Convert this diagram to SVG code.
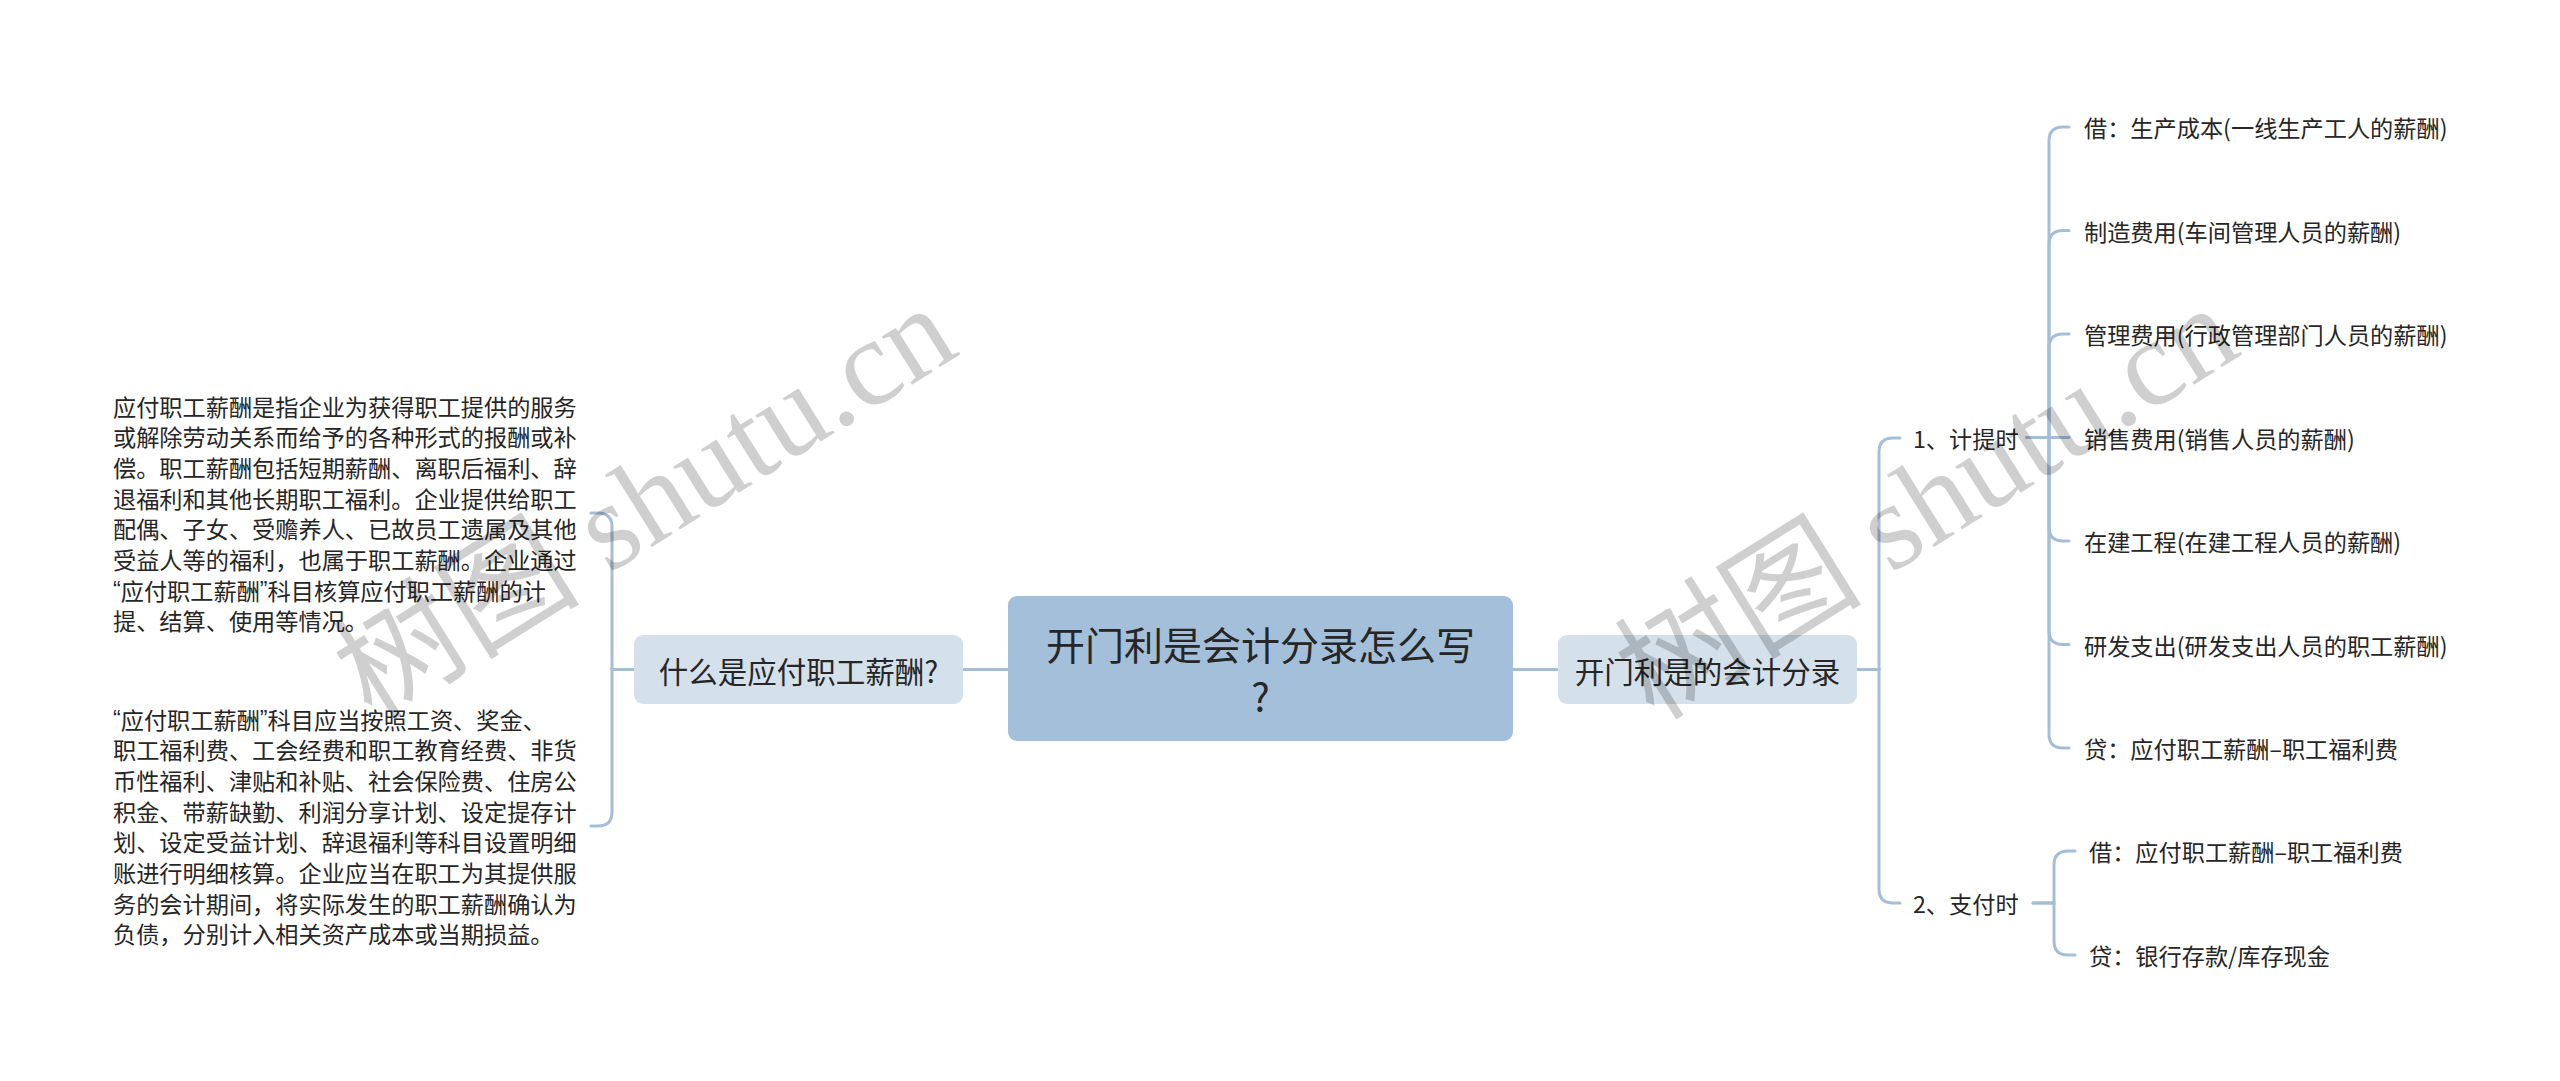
<svg xmlns="http://www.w3.org/2000/svg" width="2560" height="1081" viewBox="0 0 2560 1081">
<style>
.t{font-family:"Noto Sans CJK SC","Noto Sans",sans-serif;fill:#262626;dominant-baseline:central}
.leaf{font-size:23.2px}
.q{font-family:"Liberation Sans","Noto Sans",sans-serif}
.l1{font-size:29.5px;text-anchor:middle}
.c{font-size:39px;text-anchor:middle}
.ln{fill:none;stroke:#a5bed8;stroke-width:3;stroke-linecap:round}
.wm{font-family:"Liberation Serif","Noto Sans CJK SC",serif;font-size:124px;fill:#000;fill-opacity:0.19}
</style>
<rect width="2560" height="1081" fill="#fff"/>
<g id="connectors">
<path class="ln" d="M1008,669.5 H963"/>
<path class="ln" d="M1513,669.5 H1558"/>
<path class="ln" d="M634,669.5 H612 V527 Q612,513 598,513 H591"/>
<path class="ln" d="M634,669.5 H612 V812 Q612,826 598,826 H591"/>
<path class="ln" d="M1857,669.5 H1879 V452 Q1879,438 1893,438 H1900"/>
<path class="ln" d="M1857,669.5 H1879 V889 Q1879,903 1893,903 H1900"/>
<path class="ln" d="M2027,437.5 H2049 V141 Q2049,127 2063,127 H2069"/>
<path class="ln" d="M2027,437.5 H2049 V244.5 Q2049,230.5 2063,230.5 H2069"/>
<path class="ln" d="M2027,437.5 H2049 V348 Q2049,334 2063,334 H2069"/>
<path class="ln" d="M2027,437.5 H2069"/>
<path class="ln" d="M2027,437.5 H2049 V527 Q2049,541 2063,541 H2069"/>
<path class="ln" d="M2027,437.5 H2049 V630.5 Q2049,644.5 2063,644.5 H2069"/>
<path class="ln" d="M2027,437.5 H2049 V734 Q2049,748 2063,748 H2069"/>
<path class="ln" d="M2033,903 H2054 V865 Q2054,851 2068,851 H2075"/>
<path class="ln" d="M2033,903 H2054 V941 Q2054,955 2068,955 H2075"/>
</g>
<g id="center">
<rect x="1008" y="596" width="505" height="145" rx="9" fill="#a3bfda"/>
<text class="t c" x="1260.5" y="643">开门利是会计分录怎么写</text>
<text class="t c" x="1260.5" y="695">?</text>
</g>
<g id="n-what">
<rect x="634" y="635" width="329" height="69" rx="9" fill="#d4e0ea"/>
<text class="t l1" x="798.5" y="669.5">什么是应付职工薪酬?</text>
</g>
<g id="n-def">
<text class="t leaf" x="113" y="405.5">应付职工薪酬是指企业为获得职工提供的服务</text>
<text class="t leaf" x="113" y="436.2">或解除劳动关系而给予的各种形式的报酬或补</text>
<text class="t leaf" x="113" y="466.9">偿。职工薪酬包括短期薪酬、离职后福利、辞</text>
<text class="t leaf" x="113" y="497.6">退福利和其他长期职工福利。企业提供给职工</text>
<text class="t leaf" x="113" y="528.3">配偶、子女、受赡养人、已故员工遗属及其他</text>
<text class="t leaf" x="113" y="559">受益人等的福利，也属于职工薪酬。企业通过</text>
<text class="t leaf" x="113" y="589.7"><tspan class="q">“</tspan>应付职工薪酬<tspan class="q">”</tspan>科目核算应付职工薪酬的计</text>
<text class="t leaf" x="113" y="620.4">提、结算、使用等情况。</text>
</g>
<g id="n-account">
<text class="t leaf" x="113" y="718.5"><tspan class="q">“</tspan>应付职工薪酬<tspan class="q">”</tspan>科目应当按照工资、奖金、</text>
<text class="t leaf" x="113" y="749.2">职工福利费、工会经费和职工教育经费、非货</text>
<text class="t leaf" x="113" y="779.9">币性福利、津贴和补贴、社会保险费、住房公</text>
<text class="t leaf" x="113" y="810.6">积金、带薪缺勤、利润分享计划、设定提存计</text>
<text class="t leaf" x="113" y="841.3">划、设定受益计划、辞退福利等科目设置明细</text>
<text class="t leaf" x="113" y="872">账进行明细核算。企业应当在职工为其提供服</text>
<text class="t leaf" x="113" y="902.7">务的会计期间，将实际发生的职工薪酬确认为</text>
<text class="t leaf" x="113" y="933.4">负债，分别计入相关资产成本或当期损益。</text>
</g>
<g id="n-entries">
<rect x="1558" y="635" width="299" height="69" rx="9" fill="#d4e0ea"/>
<text class="t l1" x="1707.5" y="669.5">开门利是的会计分录</text>
</g>
<g id="n-accrue"><text class="t leaf" x="1913" y="437.5">1、计提时</text></g>
<g id="n-pay"><text class="t leaf" x="1913" y="903">2、支付时</text></g>
<g id="a1"><text class="t leaf" x="2084" y="127">借：生产成本(一线生产工人的薪酬)</text></g>
<g id="a2"><text class="t leaf" x="2084" y="230.5">制造费用(车间管理人员的薪酬)</text></g>
<g id="a3"><text class="t leaf" x="2084" y="334">管理费用(行政管理部门人员的薪酬)</text></g>
<g id="a4"><text class="t leaf" x="2084" y="437.5">销售费用(销售人员的薪酬)</text></g>
<g id="a5"><text class="t leaf" x="2084" y="541">在建工程(在建工程人员的薪酬)</text></g>
<g id="a6"><text class="t leaf" x="2084" y="644.5">研发支出(研发支出人员的职工薪酬)</text></g>
<g id="a7"><text class="t leaf" x="2084" y="748">贷：应付职工薪酬–职工福利费</text></g>
<g id="p1"><text class="t leaf" x="2089" y="851">借：应付职工薪酬–职工福利费</text></g>
<g id="p2"><text class="t leaf" x="2089" y="955">贷：银行存款/库存现金</text></g>
<g id="watermarks">
<text class="wm" x="372" y="722" transform="rotate(-32 372 722)">树图 shutu.cn</text>
<text class="wm" x="1654" y="722" transform="rotate(-32 1654 722)">树图 shutu.cn</text>
</g>
</svg>
